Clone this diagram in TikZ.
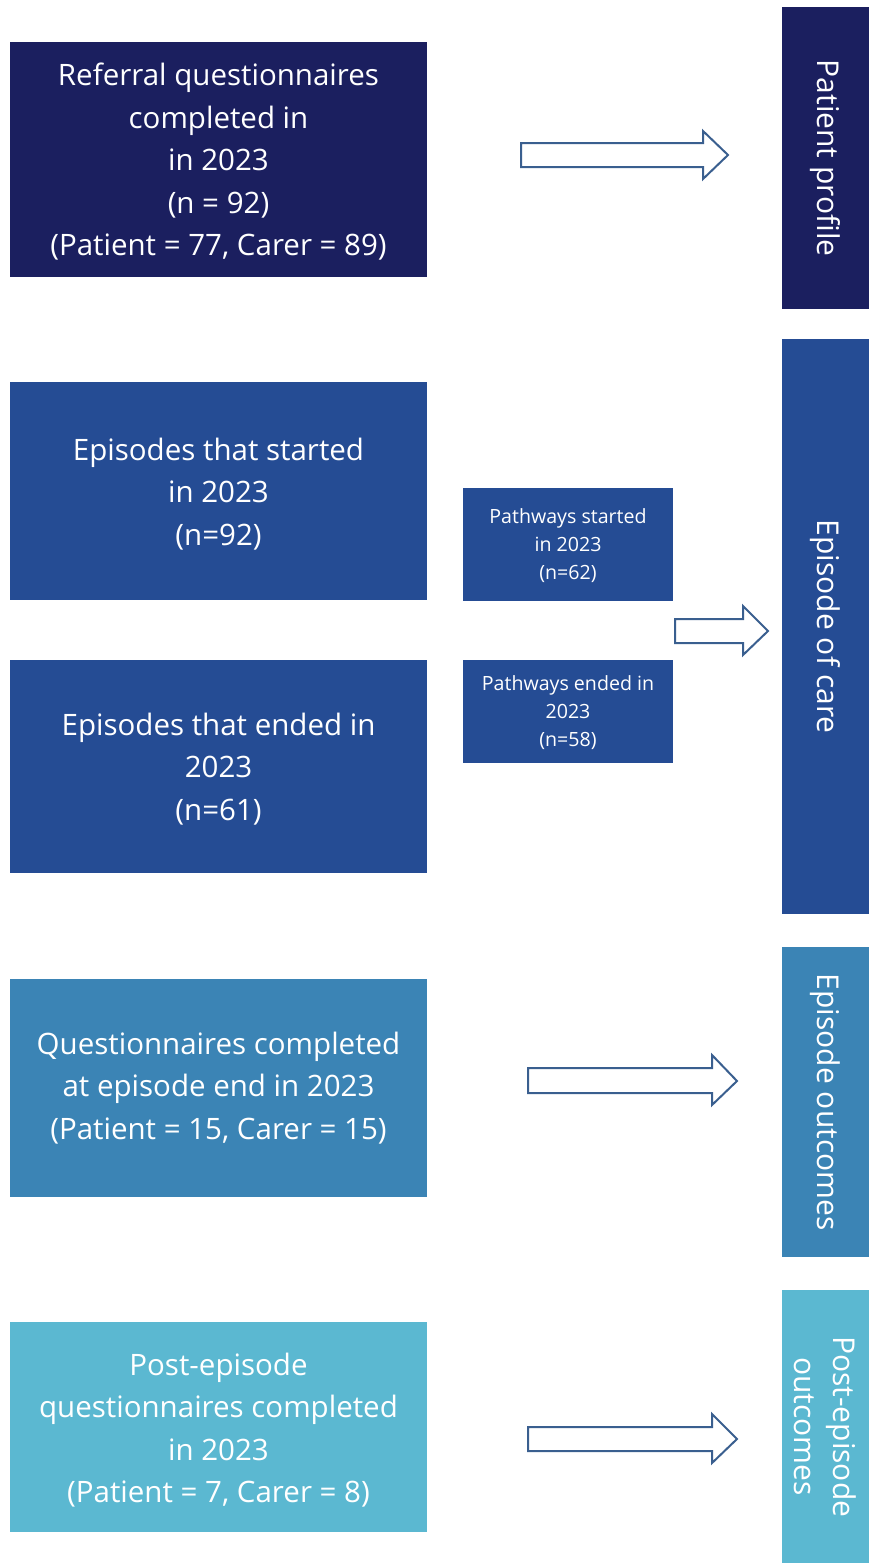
\documentclass[tikz,border=0pt]{standalone}
\usepackage{fontspec}
\setmainfont{Open Sans}
\definecolor{navy}{HTML}{1B1F5F}
\definecolor{midblue}{HTML}{254C94}
\definecolor{steel}{HTML}{3B84B5}
\definecolor{sky}{HTML}{5BB8D1}
\definecolor{arrowline}{HTML}{3A5F8F}
\tikzset{
  boxshape/.style={anchor=north west, inner sep=0pt},
  maintext/.style={text=white, align=center, font=\fontsize{29.5}{42.5}\selectfont},
  smalltext/.style={text=white, align=center, font=\fontsize{19.6}{28}\selectfont},
  sidelabel/.style={text=white, align=center, rotate=-90,
    font=\fontsize{30}{39}\selectfont},
  blockarrow/.style={draw=arrowline, line width=2pt, fill=white, line join=miter}
}
\begin{document}
\begin{tikzpicture}[x=1pt,y=-1pt]
\useasboundingbox (0,0) rectangle (869,1563);
% left boxes
\node[boxshape, fill=navy, minimum width=417pt, minimum height=235pt] (ref) at (10,42) {};
\node[maintext] (reftxt) at (218.5,162)
  {Referral questionnaires\\completed in\\in 2023\\(n = 92)\\(Patient = 77, Carer = 89)};
\node[boxshape, fill=midblue, minimum width=417pt, minimum height=218pt] (epstart) at (10,382) {};
\node[maintext] (epstarttxt) at (218.5,494)
  {Episodes that started\\in 2023\\(n=92)};
\node[boxshape, fill=midblue, minimum width=417pt, minimum height=213pt] (epend) at (10,660) {};
\node[maintext] (ependtxt) at (218.5,769)
  {Episodes that ended in\\2023\\(n=61)};
\node[boxshape, fill=steel, minimum width=417pt, minimum height=218pt] (qend) at (10,979) {};
\node[maintext] (qendtxt) at (218.5,1088)
  {Questionnaires completed\\at episode end in 2023\\(Patient = 15, Carer = 15)};
\node[boxshape, fill=sky, minimum width=417pt, minimum height=210pt] (post) at (10,1322) {};
\node[maintext] (posttxt) at (218.5,1430)
  {Post-episode\\questionnaires completed\\in 2023\\(Patient = 7, Carer = 8)};
% small boxes
\node[boxshape, fill=midblue, minimum width=210pt, minimum height=113pt] (pstart) at (463,488) {};
\node[smalltext] (pstarttxt) at (568,546)
  {Pathways started\\in 2023\\(n=62)};
\node[boxshape, fill=midblue, minimum width=210pt, minimum height=103pt] (pend) at (463,660) {};
\node[smalltext] (pendtxt) at (568,713)
  {Pathways ended in\\2023\\(n=58)};
% side boxes
\node[boxshape, fill=navy, minimum width=87pt, minimum height=302pt] (s1) at (782,7) {};
\node[sidelabel] (s1txt) at (s1.center) {Patient profile};
\node[boxshape, fill=midblue, minimum width=87pt, minimum height=575pt] (s2) at (782,339) {};
\node[sidelabel] (s2txt) at (s2.center) {Episode of care};
\node[boxshape, fill=steel, minimum width=87pt, minimum height=310pt] (s3) at (782,947) {};
\node[sidelabel] (s3txt) at (s3.center) {Episode outcomes};
\node[boxshape, fill=sky, minimum width=87pt, minimum height=273pt] (s4) at (782,1290) {};
\node[sidelabel] (s4txt) at (s4.center) {Post-episode\\outcomes};
% block arrows
\draw[blockarrow] (521,143) -- (703,143) -- (703,131) -- (728,155) -- (703,179) -- (703,167) -- (521,167) -- cycle;
\draw[blockarrow] (675,619) -- (743,619) -- (743,606) -- (768,631) -- (743,655) -- (743,643) -- (675,643) -- cycle;
\draw[blockarrow] (528,1068) -- (712,1068) -- (712,1055) -- (737,1081) -- (712,1105) -- (712,1093) -- (528,1093) -- cycle;
\draw[blockarrow] (528,1427) -- (712,1427) -- (712,1414) -- (737,1439) -- (712,1463) -- (712,1451) -- (528,1451) -- cycle;
\end{tikzpicture}
\end{document}
